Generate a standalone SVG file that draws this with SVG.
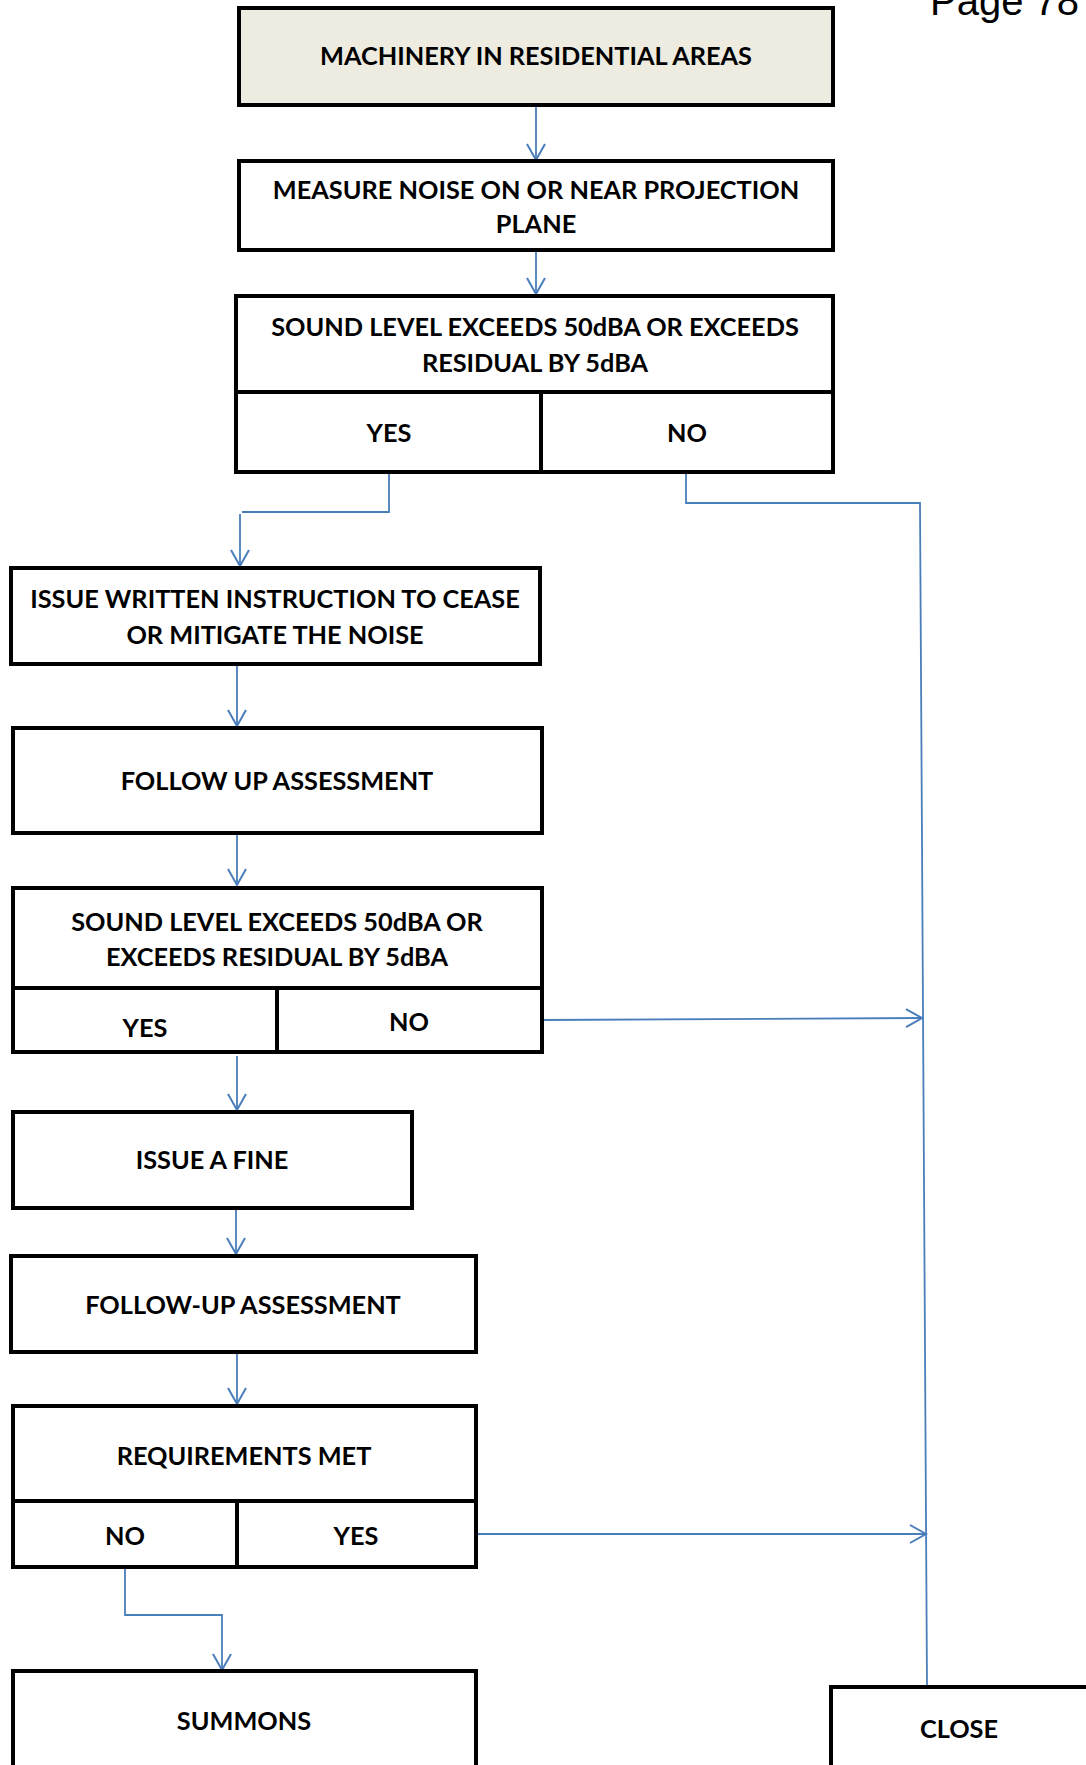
<svg xmlns="http://www.w3.org/2000/svg" width="1086" height="1765" viewBox="0 0 1086 1765">
<defs>
<style>
.box{fill:#ffffff;stroke:#000000;stroke-width:4}
.div{stroke:#000000;stroke-width:4;fill:none}
.t{font-family:Lato,"Open Sans","Liberation Sans",sans-serif;font-weight:bold;font-size:25.3px;fill:#000000;text-anchor:middle}
.c{fill:none;stroke:#4A7EBB;stroke-width:1.8}
</style>
<marker id="ah" markerWidth="20" markerHeight="22" refX="17" refY="11" orient="auto" markerUnits="userSpaceOnUse">
<path d="M1,2 L17,11 L1,20" fill="none" stroke="#4A7EBB" stroke-width="2"/>
</marker>
</defs>
<rect width="1086" height="1765" fill="#ffffff"/>
<text x="930" y="15" font-family="Liberation Sans, Arial, sans-serif" font-size="40" fill="#000000">Page 78</text>

<g id="connectors">
<path class="c" d="M536,105 L536,160" marker-end="url(#ah)"/>
<path class="c" d="M536,250 L536,294" marker-end="url(#ah)"/>
<path class="c" d="M389,472 L389,512 L242,512" />
<path class="c" d="M240,514 L240,566" marker-end="url(#ah)"/>
<path class="c" d="M686,472 L686,503 L920,503 L927,1688"/>
<path class="c" d="M542,1020 L922,1018" marker-end="url(#ah)"/>
<path class="c" d="M237,664 L237,726" marker-end="url(#ah)"/>
<path class="c" d="M237,833 L237,885" marker-end="url(#ah)"/>
<path class="c" d="M237,1056 L237,1110" marker-end="url(#ah)"/>
<path class="c" d="M236,1208 L236,1254" marker-end="url(#ah)"/>
<path class="c" d="M237,1352 L237,1404" marker-end="url(#ah)"/>
<path class="c" d="M476,1534 L926,1534" marker-end="url(#ah)"/>
<path class="c" d="M125,1567 L125,1615 L222,1615 L222,1670" marker-end="url(#ah)"/>
</g>

<g id="n1">
<rect x="239" y="8" width="594" height="97" fill="#EEECE1" stroke="#000" stroke-width="4"/>
<text class="t" x="536" y="65">MACHINERY IN RESIDENTIAL AREAS</text>
</g>
<g id="n2">
<rect class="box" x="239" y="161" width="594" height="89"/>
<text class="t" x="536" y="199">MEASURE NOISE ON OR NEAR PROJECTION</text>
<text class="t" x="536" y="233">PLANE</text>
</g>
<g id="n3">
<rect class="box" x="236" y="296" width="597" height="176"/>
<path class="div" d="M236,392 L833,392 M541,392 L541,472"/>
<text class="t" x="535" y="336">SOUND LEVEL EXCEEDS 50dBA OR EXCEEDS</text>
<text class="t" x="535" y="372">RESIDUAL BY 5dBA</text>
<text class="t" x="389" y="442">YES</text>
<text class="t" x="687" y="442">NO</text>
</g>
<g id="n4">
<rect class="box" x="11" y="568" width="529" height="96"/>
<text class="t" x="275" y="608">ISSUE WRITTEN INSTRUCTION TO CEASE</text>
<text class="t" x="275" y="644">OR MITIGATE THE NOISE</text>
</g>
<g id="n5">
<rect class="box" x="13" y="728" width="529" height="105"/>
<text class="t" x="277" y="790">FOLLOW UP ASSESSMENT</text>
</g>
<g id="n6">
<rect class="box" x="13" y="888" width="529" height="164"/>
<path class="div" d="M13,988 L542,988 M277,988 L277,1052"/>
<text class="t" x="277" y="931">SOUND LEVEL EXCEEDS 50dBA OR</text>
<text class="t" x="277" y="966">EXCEEDS RESIDUAL BY 5dBA</text>
<text class="t" x="145" y="1037">YES</text>
<text class="t" x="409" y="1031">NO</text>
</g>
<g id="n7">
<rect class="box" x="13" y="1112" width="399" height="96"/>
<text class="t" x="212" y="1169">ISSUE A FINE</text>
</g>
<g id="n8">
<rect class="box" x="11" y="1256" width="465" height="96"/>
<text class="t" x="243" y="1314">FOLLOW-UP ASSESSMENT</text>
</g>
<g id="n9">
<rect class="box" x="13" y="1406" width="463" height="161"/>
<path class="div" d="M13,1501 L476,1501 M237,1501 L237,1567"/>
<text class="t" x="244" y="1465">REQUIREMENTS MET</text>
<text class="t" x="125" y="1545">NO</text>
<text class="t" x="356" y="1545">YES</text>
</g>
<g id="n10">
<rect class="box" x="13" y="1671" width="463" height="140"/>
<text class="t" x="244" y="1730">SUMMONS</text>
</g>
<g id="n11">
<rect class="box" x="831" y="1687" width="280" height="140"/>
<text class="t" x="959" y="1738">CLOSE</text>
</g>
</svg>
